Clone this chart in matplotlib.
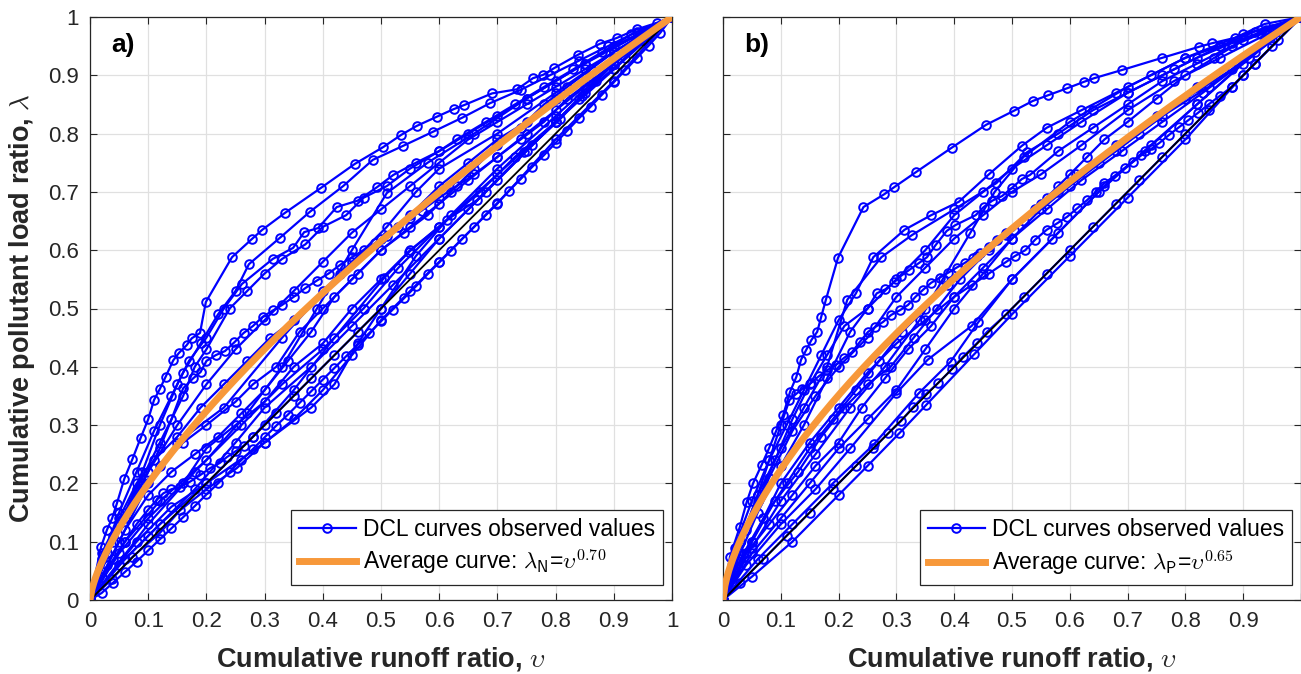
import numpy as np
import matplotlib
matplotlib.use("Agg")
import matplotlib.pyplot as plt
from matplotlib.lines import Line2D

plt.rcParams['font.family'] = ['Liberation Sans', 'DejaVu Sans']
plt.rcParams['mathtext.fontset'] = 'cm'

# ------------------------
# DCL curves: cumulative runoff ratio (x) vs cumulative load ratio (y)
# ------------------------

# panel a) - nitrogen events
runoff_a = [
    [0, 0.019, 0.029, 0.038, 0.046, 0.059, 0.073, 0.087, 0.1, 0.11, 0.12, 0.13, 0.143, 0.153, 0.166, 0.175, 0.189, 0.199, 0.244, 0.278, 0.296, 0.335, 0.397, 0.455, 0.504, 0.535, 0.561, 0.596, 0.625, 0.643, 0.691, 0.734, 0.761, 0.779, 0.797, 0.838, 0.876, 0.905, 0.94, 0.974, 1.0],
    [0, 0.02, 0.05, 0.08, 0.11, 0.14, 0.16, 0.19, 0.22, 0.25, 0.273, 0.326, 0.378, 0.435, 0.486, 0.538, 0.589, 0.639, 0.687, 0.74, 0.79, 0.84, 0.89, 0.94, 1.0],
    [0, 0.03, 0.06, 0.09, 0.12, 0.15, 0.17, 0.2, 0.23, 0.261, 0.314, 0.349, 0.368, 0.392, 0.424, 0.46, 0.493, 0.521, 0.56, 0.6, 0.65, 0.7, 0.75, 0.8, 0.85, 0.9, 0.95, 1.0],
    [0, 0.04, 0.08, 0.12, 0.16, 0.18, 0.2, 0.24, 0.27, 0.3, 0.33, 0.37, 0.4, 0.44, 0.47, 0.51, 0.55, 0.6, 0.63, 0.68, 0.73, 0.78, 0.83, 0.88, 0.93, 1.0],
    [0, 0.03, 0.06, 0.09, 0.12, 0.14, 0.16, 0.177, 0.19, 0.2, 0.216, 0.232, 0.248, 0.264, 0.28, 0.297, 0.315, 0.33, 0.35, 0.37, 0.39, 0.41, 0.43, 0.45, 0.47, 0.49, 0.51, 0.53, 0.55, 0.57, 0.6, 0.63, 0.66, 0.7, 0.74, 0.78, 0.82, 0.86, 0.9, 0.95, 1.0],
    [0, 0.02, 0.04, 0.06, 0.08, 0.1, 0.115, 0.126, 0.14, 0.155, 0.172, 0.189, 0.206, 0.223, 0.235, 0.25, 0.265, 0.28, 0.3, 0.32, 0.35, 0.38, 0.42, 0.46, 0.5, 0.55, 0.6, 0.65, 0.7, 0.75, 0.8, 0.85, 0.9, 0.95, 1.0],
    [0, 0.02, 0.04, 0.06, 0.08, 0.10, 0.12, 0.14, 0.16, 0.18, 0.20, 0.22, 0.24, 0.26, 0.28, 0.30, 0.32, 0.34, 0.36, 0.38, 0.40, 0.42, 0.44, 0.46, 0.48, 0.50, 0.52, 0.54, 0.56, 0.58, 0.60, 0.62, 0.64, 0.66, 0.68, 0.70, 0.72, 0.74, 0.76, 0.78, 0.80, 0.82, 0.84, 0.86, 0.88, 0.90, 0.92, 0.94, 0.96, 0.98, 1.0],
    [0, 0.038, 0.073, 0.12, 0.155, 0.2, 0.252, 0.3, 0.35, 0.4, 0.45, 0.5, 0.55, 0.6, 0.7, 0.8, 0.9, 1.0],
    [0, 0.05, 0.1, 0.16, 0.2, 0.25, 0.3, 0.35, 0.4, 0.45, 0.5, 0.55, 0.6, 0.7, 0.8, 0.9, 1.0],
    [0, 0.04, 0.08, 0.12, 0.16, 0.2, 0.25, 0.28, 0.32, 0.36, 0.4, 0.45, 0.5, 0.55, 0.6, 0.65, 0.7, 0.75, 0.8, 0.85, 0.9, 0.95, 1.0],
    [0, 0.03, 0.06, 0.1, 0.14, 0.18, 0.22, 0.26, 0.3, 0.34, 0.38, 0.42, 0.46, 0.5, 0.54, 0.58, 0.62, 0.66, 0.7, 0.74, 0.78, 0.82, 0.86, 0.9, 0.95, 1.0],
    [0, 0.05, 0.1, 0.15, 0.23, 0.33, 0.43, 0.51, 0.56, 0.6, 0.7, 0.8, 0.9, 1.0],
    [0, 0.06, 0.12, 0.2, 0.27, 0.33, 0.39, 0.45, 0.51, 0.58, 0.66, 0.75, 0.85, 1.0],
    [0, 0.08, 0.14, 0.2, 0.3, 0.38, 0.42, 0.46, 0.5, 0.56, 0.62, 0.7, 0.8, 0.9, 1.0],
    [0, 0.1, 0.18, 0.26, 0.33, 0.4, 0.47, 0.53, 0.6, 0.67, 0.73, 0.8, 0.87, 0.93, 1.0],
    [0, 0.05, 0.1, 0.15, 0.2, 0.25, 0.3, 0.35, 0.4, 0.45, 0.5, 0.55, 0.6, 0.65, 0.7, 0.75, 0.8, 0.85, 0.9, 0.95, 1.0],
    [0, 0.06, 0.12, 0.2, 0.28, 0.35, 0.42, 0.505, 0.548, 0.613, 0.665, 0.746, 0.808, 0.845, 0.9, 1.0],
    [0, 0.05, 0.1, 0.18, 0.25, 0.3, 0.38, 0.45, 0.52, 0.6, 0.68, 0.76, 0.84, 0.92, 1.0],
    [0, 0.02, 0.05, 0.08, 0.11, 0.15, 0.19, 0.23, 0.27, 0.31, 0.35, 0.4, 0.45, 0.5, 0.55, 0.6, 0.65, 0.7, 0.75, 0.8, 0.85, 0.9, 0.95, 1.0],
]
load_a = [
    [0, 0.091, 0.12, 0.14, 0.165, 0.208, 0.242, 0.278, 0.31, 0.343, 0.362, 0.383, 0.411, 0.424, 0.437, 0.449, 0.458, 0.511, 0.588, 0.619, 0.635, 0.664, 0.707, 0.748, 0.777, 0.798, 0.813, 0.829, 0.842, 0.849, 0.869, 0.876, 0.895, 0.901, 0.912, 0.935, 0.954, 0.964, 0.979, 0.99, 1.0],
    [0, 0.07, 0.15, 0.22, 0.29, 0.35, 0.39, 0.44, 0.49, 0.53, 0.576, 0.621, 0.666, 0.71, 0.755, 0.779, 0.803, 0.827, 0.852, 0.875, 0.9, 0.925, 0.95, 0.975, 1.0],
    [0, 0.08, 0.15, 0.22, 0.3, 0.37, 0.41, 0.45, 0.5, 0.542, 0.585, 0.604, 0.631, 0.638, 0.674, 0.685, 0.708, 0.729, 0.75, 0.77, 0.8, 0.83, 0.86, 0.89, 0.92, 0.95, 0.975, 1.0],
    [0, 0.1, 0.19, 0.27, 0.35, 0.4, 0.43, 0.5, 0.53, 0.56, 0.585, 0.61, 0.64, 0.66, 0.69, 0.71, 0.74, 0.77, 0.79, 0.82, 0.85, 0.88, 0.91, 0.94, 0.97, 1.0],
    [0, 0.08, 0.14, 0.2, 0.26, 0.31, 0.363, 0.38, 0.391, 0.41, 0.42, 0.427, 0.442, 0.458, 0.47, 0.486, 0.497, 0.506, 0.52, 0.535, 0.548, 0.56, 0.575, 0.588, 0.6, 0.612, 0.625, 0.64, 0.655, 0.668, 0.69, 0.71, 0.73, 0.76, 0.79, 0.82, 0.86, 0.89, 0.92, 0.96, 1.0],
    [0, 0.04, 0.07, 0.1, 0.13, 0.155, 0.172, 0.183, 0.19, 0.194, 0.203, 0.214, 0.226, 0.235, 0.245, 0.255, 0.265, 0.28, 0.3, 0.32, 0.35, 0.38, 0.42, 0.46, 0.5, 0.56, 0.62, 0.67, 0.72, 0.77, 0.82, 0.87, 0.91, 0.96, 1.0],
    [0, 0.012, 0.03, 0.048, 0.066, 0.085, 0.104, 0.123, 0.142, 0.161, 0.181, 0.2, 0.22, 0.24, 0.259, 0.279, 0.299, 0.318, 0.338, 0.358, 0.378, 0.398, 0.418, 0.438, 0.458, 0.478, 0.498, 0.518, 0.538, 0.559, 0.579, 0.599, 0.62, 0.64, 0.661, 0.681, 0.702, 0.722, 0.743, 0.763, 0.784, 0.805, 0.826, 0.846, 0.867, 0.888, 0.909, 0.93, 0.951, 0.973, 1.0],
    [0, 0.036, 0.074, 0.115, 0.154, 0.19, 0.226, 0.27, 0.31, 0.36, 0.42, 0.48, 0.53, 0.58, 0.68, 0.79, 0.89, 1.0],
    [0, 0.08, 0.14, 0.2, 0.26, 0.3, 0.34, 0.4, 0.44, 0.5, 0.55, 0.6, 0.64, 0.73, 0.82, 0.91, 1.0],
    [0, 0.11, 0.18, 0.23, 0.27, 0.3, 0.34, 0.37, 0.4, 0.46, 0.5, 0.55, 0.6, 0.64, 0.68, 0.72, 0.76, 0.8, 0.84, 0.88, 0.92, 0.96, 1.0],
    [0, 0.06, 0.12, 0.18, 0.22, 0.25, 0.28, 0.32, 0.36, 0.41, 0.46, 0.52, 0.56, 0.6, 0.63, 0.66, 0.7, 0.74, 0.78, 0.81, 0.85, 0.88, 0.91, 0.94, 0.97, 1.0],
    [0, 0.1, 0.2, 0.27, 0.33, 0.45, 0.56, 0.64, 0.7, 0.74, 0.8, 0.87, 0.94, 1.0],
    [0, 0.1, 0.17, 0.24, 0.32, 0.4, 0.5, 0.6, 0.698, 0.75, 0.8, 0.86, 0.92, 1.0],
    [0, 0.1, 0.16, 0.2, 0.27, 0.33, 0.37, 0.44, 0.5, 0.59, 0.66, 0.74, 0.83, 0.92, 1.0],
    [0, 0.13, 0.22, 0.3, 0.37, 0.43, 0.5, 0.57, 0.64, 0.7, 0.76, 0.82, 0.89, 0.95, 1.0],
    [0, 0.13, 0.22, 0.3, 0.37, 0.43, 0.48, 0.53, 0.58, 0.63, 0.67, 0.71, 0.75, 0.79, 0.82, 0.85, 0.88, 0.91, 0.94, 0.97, 1.0],
    [0, 0.07, 0.13, 0.2, 0.28, 0.36, 0.45, 0.552, 0.597, 0.652, 0.686, 0.768, 0.825, 0.865, 0.92, 1.0],
    [0, 0.06, 0.11, 0.19, 0.27, 0.33, 0.4, 0.47, 0.54, 0.62, 0.7, 0.78, 0.86, 0.93, 1.0],
    [0, 0.08, 0.14, 0.2, 0.24, 0.28, 0.33, 0.37, 0.41, 0.45, 0.48, 0.53, 0.58, 0.62, 0.66, 0.71, 0.75, 0.79, 0.82, 0.86, 0.89, 0.93, 0.96, 1.0],
]

# panel b) - phosphorus events
runoff_b = [
    [0, 0.012, 0.029, 0.041, 0.052, 0.067, 0.08, 0.092, 0.104, 0.116, 0.127, 0.135, 0.144, 0.153, 0.163, 0.17, 0.178, 0.199, 0.243, 0.279, 0.296, 0.334, 0.396, 0.455, 0.503, 0.536, 0.563, 0.596, 0.625, 0.642, 0.69, 0.76, 0.824, 0.846, 0.885, 0.937, 1.0],
    [0, 0.02, 0.05, 0.08, 0.11, 0.14, 0.17, 0.2, 0.23, 0.26, 0.314, 0.36, 0.408, 0.461, 0.517, 0.56, 0.62, 0.68, 0.74, 0.8, 0.86, 0.92, 1.0],
    [0, 0.03, 0.06, 0.1, 0.14, 0.18, 0.215, 0.274, 0.327, 0.4, 0.473, 0.526, 0.58, 0.64, 0.7, 0.76, 0.82, 0.88, 0.94, 1.0],
    [0, 0.03, 0.06, 0.1, 0.14, 0.18, 0.22, 0.25, 0.266, 0.281, 0.296, 0.308, 0.322, 0.339, 0.353, 0.368, 0.387, 0.402, 0.437, 0.451, 0.466, 0.483, 0.5, 0.517, 0.531, 0.58, 0.64, 0.7, 0.76, 0.82, 0.88, 0.94, 1.0],
    [0, 0.03, 0.06, 0.08, 0.1, 0.115, 0.126, 0.137, 0.152, 0.166, 0.18, 0.195, 0.209, 0.223, 0.237, 0.251, 0.263, 0.277, 0.291, 0.306, 0.32, 0.333, 0.346, 0.36, 0.375, 0.389, 0.404, 0.418, 0.432, 0.445, 0.46, 0.474, 0.489, 0.503, 0.52, 0.54, 0.56, 0.58, 0.6, 0.63, 0.66, 0.7, 0.75, 0.8, 0.85, 0.9, 0.95, 1.0],
    [0, 0.05, 0.1, 0.15, 0.2, 0.25, 0.3, 0.35, 0.4, 0.43, 0.46, 0.49, 0.505, 0.523, 0.54, 0.56, 0.578, 0.595, 0.613, 0.63, 0.645, 0.66, 0.678, 0.695, 0.71, 0.724, 0.74, 0.755, 0.772, 0.789, 0.805, 0.821, 0.84, 0.86, 0.88, 0.9, 0.92, 0.95, 1.0],
    [0, 0.03, 0.07, 0.11, 0.15, 0.19, 0.23, 0.26, 0.286, 0.308, 0.329, 0.351, 0.372, 0.396, 0.415, 0.439, 0.457, 0.49, 0.52, 0.56, 0.6, 0.64, 0.68, 0.72, 0.76, 0.8, 0.84, 0.88, 0.92, 0.96, 1.0],
    [0, 0.05, 0.12, 0.2, 0.25, 0.305, 0.351, 0.435, 0.5, 0.6, 0.7, 0.8, 0.9, 1.0],
    [0, 0.04, 0.1, 0.16, 0.22, 0.3, 0.354, 0.43, 0.5, 0.58, 0.66, 0.74, 0.82, 0.9, 1.0],
    [0, 0.03, 0.07, 0.11, 0.15, 0.19, 0.23, 0.27, 0.31, 0.35, 0.39, 0.44, 0.49, 0.55, 0.61, 0.68, 0.75, 0.82, 0.9, 1.0],
    [0, 0.04, 0.08, 0.12, 0.16, 0.2, 0.24, 0.28, 0.32, 0.36, 0.4, 0.45, 0.5, 0.56, 0.62, 0.69, 0.76, 0.83, 0.91, 1.0],
    [0, 0.02, 0.05, 0.09, 0.13, 0.17, 0.21, 0.25, 0.29, 0.33, 0.37, 0.41, 0.46, 0.52, 0.58, 0.65, 0.72, 0.8, 0.88, 0.95, 1.0],
    [0, 0.06, 0.12, 0.19, 0.261, 0.339, 0.394, 0.442, 0.5, 0.57, 0.65, 0.73, 0.82, 0.91, 1.0],
    [0, 0.05, 0.1, 0.15, 0.2, 0.25, 0.3, 0.35, 0.4, 0.45, 0.5, 0.55, 0.6, 0.68, 0.76, 0.84, 0.92, 1.0],
    [0, 0.03, 0.06, 0.09, 0.12, 0.15, 0.18, 0.21, 0.25, 0.3, 0.35, 0.4, 0.45, 0.5, 0.56, 0.62, 0.7, 0.78, 0.86, 0.93, 1.0],
    [0, 0.05, 0.1, 0.16, 0.22, 0.28, 0.34, 0.38, 0.428, 0.47, 0.52, 0.6, 0.7, 0.8, 0.9, 1.0],
    [0, 0.04, 0.08, 0.12, 0.16, 0.2, 0.25, 0.3, 0.35, 0.4, 0.45, 0.5, 0.55, 0.62, 0.7, 0.78, 0.86, 0.94, 1.0],
]
load_b = [
    [0, 0.074, 0.125, 0.168, 0.2, 0.232, 0.261, 0.29, 0.317, 0.357, 0.383, 0.412, 0.429, 0.446, 0.46, 0.486, 0.515, 0.587, 0.674, 0.696, 0.708, 0.734, 0.776, 0.815, 0.839, 0.856, 0.866, 0.878, 0.889, 0.895, 0.909, 0.93, 0.949, 0.955, 0.964, 0.988, 1.0],
    [0, 0.09, 0.17, 0.24, 0.3, 0.36, 0.42, 0.48, 0.526, 0.588, 0.635, 0.66, 0.683, 0.731, 0.779, 0.81, 0.84, 0.87, 0.9, 0.93, 0.95, 0.975, 1.0],
    [0, 0.1, 0.18, 0.26, 0.33, 0.4, 0.515, 0.588, 0.626, 0.67, 0.715, 0.768, 0.8, 0.84, 0.87, 0.9, 0.93, 0.955, 0.978, 1.0],
    [0, 0.08, 0.15, 0.23, 0.3, 0.38, 0.46, 0.5, 0.526, 0.533, 0.545, 0.556, 0.566, 0.578, 0.588, 0.609, 0.633, 0.643, 0.66, 0.674, 0.685, 0.693, 0.707, 0.722, 0.729, 0.77, 0.81, 0.85, 0.89, 0.92, 0.95, 0.975, 1.0],
    [0, 0.1, 0.18, 0.24, 0.3, 0.343, 0.353, 0.362, 0.372, 0.384, 0.394, 0.403, 0.415, 0.425, 0.443, 0.46, 0.468, 0.477, 0.489, 0.497, 0.506, 0.52, 0.532, 0.544, 0.553, 0.561, 0.57, 0.578, 0.587, 0.595, 0.606, 0.617, 0.626, 0.634, 0.65, 0.67, 0.69, 0.71, 0.73, 0.76, 0.79, 0.82, 0.86, 0.9, 0.93, 0.96, 0.98, 1.0],
    [0, 0.1, 0.2, 0.27, 0.33, 0.39, 0.44, 0.48, 0.52, 0.54, 0.56, 0.58, 0.59, 0.6, 0.618, 0.635, 0.646, 0.657, 0.672, 0.686, 0.7, 0.715, 0.728, 0.741, 0.752, 0.763, 0.773, 0.784, 0.798, 0.811, 0.823, 0.835, 0.85, 0.865, 0.88, 0.9, 0.92, 0.95, 1.0],
    [0, 0.03, 0.07, 0.11, 0.15, 0.19, 0.23, 0.26, 0.286, 0.307, 0.331, 0.353, 0.372, 0.396, 0.417, 0.44, 0.46, 0.49, 0.52, 0.56, 0.6, 0.64, 0.68, 0.72, 0.76, 0.8, 0.84, 0.88, 0.92, 0.96, 1.0],
    [0, 0.04, 0.1, 0.18, 0.23, 0.286, 0.334, 0.422, 0.49, 0.59, 0.69, 0.79, 0.9, 1.0],
    [0, 0.06, 0.13, 0.19, 0.26, 0.355, 0.412, 0.47, 0.55, 0.63, 0.71, 0.78, 0.85, 0.92, 1.0],
    [0, 0.07, 0.14, 0.2, 0.26, 0.31, 0.36, 0.41, 0.46, 0.5, 0.54, 0.59, 0.63, 0.68, 0.73, 0.78, 0.83, 0.88, 0.93, 1.0],
    [0, 0.08, 0.13, 0.18, 0.23, 0.27, 0.33, 0.38, 0.43, 0.47, 0.52, 0.57, 0.62, 0.67, 0.72, 0.77, 0.82, 0.87, 0.93, 1.0],
    [0, 0.05, 0.1, 0.17, 0.22, 0.28, 0.33, 0.37, 0.4, 0.45, 0.5, 0.55, 0.6, 0.65, 0.7, 0.75, 0.8, 0.86, 0.91, 0.96, 1.0],
    [0, 0.07, 0.13, 0.2, 0.267, 0.355, 0.409, 0.477, 0.55, 0.62, 0.7, 0.77, 0.85, 0.93, 1.0],
    [0, 0.08, 0.14, 0.2, 0.26, 0.31, 0.36, 0.43, 0.5, 0.56, 0.62, 0.67, 0.71, 0.77, 0.83, 0.88, 0.94, 1.0],
    [0, 0.1, 0.17, 0.24, 0.31, 0.37, 0.42, 0.47, 0.5, 0.55, 0.6, 0.66, 0.7, 0.74, 0.78, 0.82, 0.87, 0.91, 0.95, 0.97, 1.0],
    [0, 0.09, 0.17, 0.25, 0.33, 0.4, 0.48, 0.55, 0.63, 0.7, 0.76, 0.82, 0.88, 0.93, 0.97, 1.0],
    [0, 0.12, 0.21, 0.29, 0.35, 0.4, 0.45, 0.52, 0.57, 0.62, 0.66, 0.7, 0.73, 0.78, 0.84, 0.89, 0.93, 0.97, 1.0],
]

# fitted average curve exponents: lambda = v^b
avg_exponent = [0.70, 0.65]
avg_subscript = ['N', 'P']
panel_tags = ['a)', 'b)']

tick_vals = [0, 0.1, 0.2, 0.3, 0.4, 0.5, 0.6, 0.7, 0.8, 0.9, 1]
tick_text = ['0', '0.1', '0.2', '0.3', '0.4', '0.5', '0.6', '0.7', '0.8', '0.9', '1']

BLUE = '#0000FF'
ORANGE = '#F7983A'
TXT = '#262626'

W, H = 1301, 674
fig = plt.figure(figsize=(W / 100, H / 100), dpi=100)
ax_a = fig.add_axes([90 / W, 74 / H, 582 / W, 583 / H])
ax_b = fig.add_axes([723 / W, 74 / H, 578 / W, 583 / H])

line_kw = dict(color=BLUE, lw=1.6, marker='o', ms=6.2, mfc='none',
               mec=BLUE, mew=1.4)


def draw_panel(ax, runoff, load, exponent, sub, tag, xmax):
    for xs, ys in zip(runoff, load):
        ax.plot(xs, ys, zorder=2, **line_kw)
    # 1:1 line (uniform load distribution)
    ax.plot([0, 1], [0, 1], color='black', lw=1.3, zorder=3)
    v = np.linspace(0, 1, 300)
    ax.plot(v, v ** exponent, color=ORANGE, lw=5, zorder=4,
            solid_capstyle='butt')

    ax.set_xlim(0, xmax)
    ax.set_ylim(0, 1)
    ax.set_xticks(tick_vals)
    ax.set_yticks(tick_vals)
    ax.grid(True, color='#e0e0e0', lw=0.9)
    ax.set_axisbelow(True)
    ax.tick_params(direction='in', top=True, right=True, length=5,
                   width=0.8, color=TXT, labelsize=16, labelcolor=TXT, pad=8)
    for s in ax.spines.values():
        s.set_color(TXT)
        s.set_linewidth(0.9)

    ax.text(0.036, 0.952, tag, transform=ax.transAxes, fontsize=19,
            fontweight='bold', va='center', ha='left')
    ax.set_xlabel(r'Cumulative runoff ratio, $\upsilon$', fontsize=19.5,
                  fontweight='bold', color=TXT, labelpad=9)

    handles = [
        Line2D([], [], **line_kw),
        Line2D([], [], color=ORANGE, lw=5),
    ]
    labels = [
        'DCL curves observed values',
        r'Average curve: $\lambda_{\mathsf{%s}}$=$\upsilon^{\mathsf{%.2f}}$'
        % (sub, exponent),
    ]
    right = 1 - 9 / (ax.get_position().width * W)
    leg = ax.legend(handles, labels, loc='lower right',
                    bbox_to_anchor=(right, 0.026), borderaxespad=0,
                    fontsize=16.5, handlelength=2.5, handletextpad=0.3,
                    fancybox=False, framealpha=1, edgecolor=TXT,
                    borderpad=0.35, labelspacing=0.3)
    leg.get_frame().set_linewidth(0.9)
    leg.set_zorder(10)


draw_panel(ax_a, runoff_a, load_a, avg_exponent[0], avg_subscript[0],
           panel_tags[0], 1.0)
draw_panel(ax_b, runoff_b, load_b, avg_exponent[1], avg_subscript[1],
           panel_tags[1], 578 / 583)

ax_a.set_xticklabels(tick_text)
ax_a.set_yticklabels(tick_text)
ax_a.set_ylabel(r'Cumulative pollutant load ratio, $\lambda$', fontsize=19.5,
                fontweight='bold', color=TXT, labelpad=8)
ax_b.set_xticklabels(tick_text[:-1] + [''])
ax_b.set_yticklabels([])

fig.savefig('out.png', dpi=100)
